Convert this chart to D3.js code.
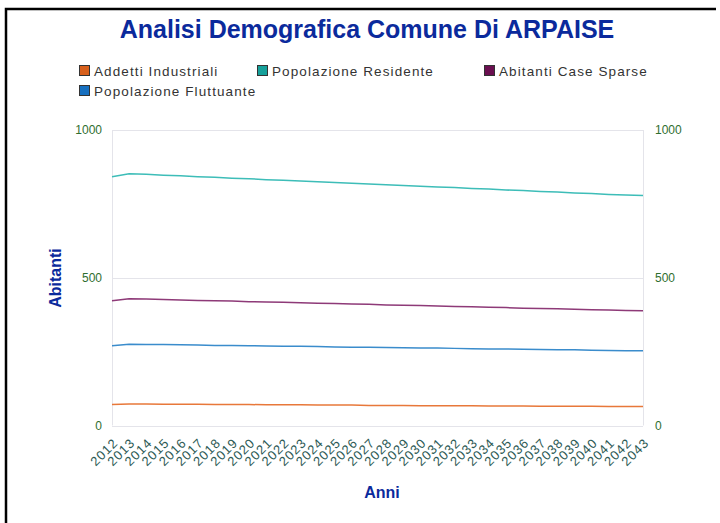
<!DOCTYPE html>
<html>
<head>
<meta charset="utf-8">
<script src="https://cdn.jsdelivr.net/npm/d3@7"></script>
<style>
  body { margin: 0; background: #fff; }
  svg { display: block; font-family: "Liberation Sans", Arial, sans-serif; }
</style>
</head>
<body>
<div id="chart"></div>
<script>
// data
var years = d3.range(2012, 2044);
var addetti = [71, 73, 73, 72, 72, 72, 71, 71, 71, 70, 70, 70, 69, 69, 69, 68, 68, 68, 67, 67, 67, 67, 66, 66, 66, 65, 65, 65, 65, 64, 64, 64];
var residente = [842, 852, 850, 847, 845, 842, 840, 837, 835, 832, 830, 827, 825, 822, 820, 817, 815, 812, 810, 807, 805, 802, 800, 797, 795, 792, 790, 787, 785, 782, 780, 778];
var sparse = [422, 429, 428, 426, 425, 423, 422, 421, 419, 418, 417, 415, 414, 413, 411, 410, 408, 407, 406, 404, 403, 402, 400, 399, 397, 396, 395, 393, 392, 391, 389, 388];
var fluttuante = [270, 275, 274, 274, 273, 272, 271, 271, 270, 269, 268, 268, 267, 266, 265, 265, 264, 263, 262, 262, 261, 260, 259, 259, 258, 257, 256, 256, 255, 254, 253, 253];
var seriesNames = ["Addetti Industriali", "Popolazione Residente", "Abitanti Case Sparse", "Popolazione Fluttuante"];
var yTicks = [0, 500, 1000];

var series = [
  {name: seriesNames[0], values: addetti, color: "#e8783a", box: "#d8601c"},
  {name: seriesNames[1], values: residente, color: "#3dbdb8", box: "#16a09a"},
  {name: seriesNames[2], values: sparse, color: "#8e3a78", box: "#6a0f50"},
  {name: seriesNames[3], values: fluttuante, color: "#3a8ccc", box: "#1770c0"}
];

var width = 720, height = 523;
var plot = {left: 112, right: 643, top: 130, bottom: 425.5};

var svg = d3.select("#chart").append("svg")
    .attr("width", width)
    .attr("height", height);

// frame (left and top edges are visible)
svg.append("path")
    .attr("d", "M6,530 L6,9 L716,9")
    .attr("fill", "none")
    .attr("stroke", "#000")
    .attr("stroke-width", 2.5);

svg.append("text")
    .attr("x", 367)
    .attr("y", 38)
    .attr("text-anchor", "middle")
    .style("font-size", "25px")
    .style("font-weight", "bold")
    .style("fill", "#0b2a9c")
    .text("Analisi Demografica Comune Di ARPAISE");

// legend
var legendPos = [[79, 71], [257, 71], [484, 71], [79, 91]];
var legend = svg.selectAll(".legend")
    .data(series)
  .enter().append("g")
    .attr("class", "legend")
    .attr("transform", function (d, i) { return "translate(" + legendPos[i][0] + "," + legendPos[i][1] + ")"; });
legend.append("rect")
    .attr("x", 0.5).attr("y", -5.5)
    .attr("width", 10).attr("height", 10)
    .attr("fill", function (d) { return d.box; })
    .attr("stroke", "#333");
legend.append("text")
    .attr("x", 15)
    .attr("y", 0)
    .attr("dominant-baseline", "central")
    .style("font-size", "13.5px")
    .style("letter-spacing", "1.1px")
    .style("fill", "#333")
    .text(function (d) { return d.name; });

var x = d3.scalePoint().domain(years).range([plot.left, plot.right]);
var y = d3.scaleLinear().domain([0, 1000]).range([plot.bottom, plot.top]);

// grid
svg.selectAll(".grid")
    .data(yTicks)
  .enter().append("line")
    .attr("x1", plot.left).attr("x2", plot.right)
    .attr("y1", function (d) { return Math.round(y(d)) + 0.5; })
    .attr("y2", function (d) { return Math.round(y(d)) + 0.5; })
    .attr("stroke", "#e4e4ea");
[plot.left, plot.right].forEach(function (px) {
  svg.append("line")
      .attr("x1", px + 0.5).attr("x2", px + 0.5)
      .attr("y1", plot.top).attr("y2", plot.bottom)
      .attr("stroke", "#e4e4ea");
});

// y axes, left and right
var yLeft = svg.append("g")
    .attr("transform", "translate(" + (plot.left - 10) + ",0)")
    .call(d3.axisLeft(y).tickValues(yTicks).tickFormat(d3.format("d")).tickSize(0).tickPadding(0));
var yRight = svg.append("g")
    .attr("transform", "translate(" + (plot.right + 12) + ",0)")
    .call(d3.axisRight(y).tickValues(yTicks).tickFormat(d3.format("d")).tickSize(0).tickPadding(0));
[yLeft, yRight].forEach(function (g) {
  g.select(".domain").remove();
  g.selectAll("text")
      .style("font-size", "12px")
      .style("font-family", "Liberation Sans, Arial, sans-serif")
      .style("fill", "#2f6e2f");
});

// x axis
var xAxis = svg.append("g")
    .attr("transform", "translate(0," + (plot.bottom + 15) + ")")
    .call(d3.axisBottom(x).tickSize(0).tickPadding(0));
xAxis.select(".domain").remove();
xAxis.selectAll("text")
    .attr("text-anchor", "end")
    .attr("y", 0)
    .attr("dy", "0.35em")
    .attr("transform", "translate(3,0) rotate(-45)")
    .style("font-size", "13px")
    .style("letter-spacing", "0.9px")
    .style("font-family", "Liberation Sans, Arial, sans-serif")
    .style("fill", "#2d5a55");

// lines
var line = d3.line()
    .x(function (d, i) { return x(years[i]); })
    .y(function (d) { return y(d); });
svg.selectAll(".series")
    .data(series)
  .enter().append("path")
    .attr("class", "series")
    .attr("d", function (d) { return line(d.values); })
    .attr("fill", "none")
    .attr("stroke", function (d) { return d.color; })
    .attr("stroke-width", 1.5);

// axis titles
svg.append("text")
    .attr("transform", "translate(61,278) rotate(-90)")
    .attr("text-anchor", "middle")
    .style("font-size", "16px")
    .style("font-weight", "bold")
    .style("fill", "#0b2a9c")
    .text("Abitanti");
svg.append("text")
    .attr("x", 382)
    .attr("y", 498)
    .attr("text-anchor", "middle")
    .style("font-size", "16px")
    .style("font-weight", "bold")
    .style("fill", "#0b2a9c")
    .text("Anni");
</script>
</body>
</html>
